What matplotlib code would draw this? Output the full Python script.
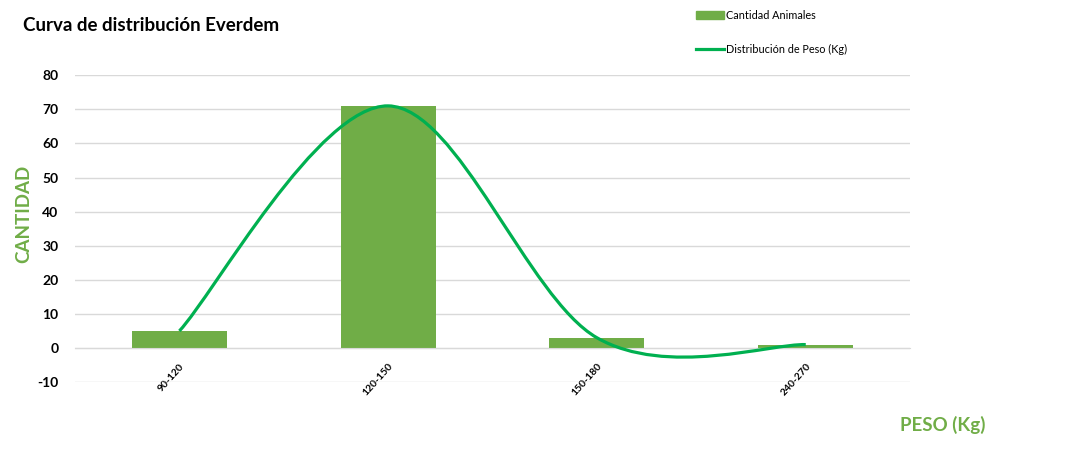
import matplotlib.pyplot as plt
from matplotlib.path import Path
from matplotlib.patches import PathPatch, Patch
from matplotlib.lines import Line2D
import numpy as np

plt.rcParams['font.family'] = ['Lato', 'DejaVu Sans']
plt.rcParams['axes.unicode_minus'] = False

categories = ['90-120', '120-150', '150-180', '240-270']
cantidad = [5, 71, 3, 1]
distribucion = [5, 71, 3, 1]

bar_colour = '#70AD47'
line_colour = '#00B050'

fig = plt.figure(figsize=(10.9, 4.7), dpi=100)
ax = fig.add_axes([0.0688, 0.187, 0.7662, 0.653])

x = np.arange(len(categories))
ax.bar(x, cantidad, width=0.455, color=bar_colour, zorder=2)


# smoothed line like excel: bezier with control points from neighbours
def smooth_path(xs, ys):
    pts = np.column_stack([xs, ys]).astype(float)
    n = len(pts)
    verts = [pts[0]]
    codes = [Path.MOVETO]
    for i in range(n - 1):
        p0 = pts[max(i - 1, 0)]
        p1 = pts[i]
        p2 = pts[i + 1]
        p3 = pts[min(i + 2, n - 1)]
        c1 = p1 + (p2 - p0) / 6.0
        c2 = p2 - (p3 - p1) / 6.0
        verts += [c1, c2, p2]
        codes += [Path.CURVE4] * 3
    return Path(verts, codes)


curve = PathPatch(smooth_path(x, distribucion), facecolor='none',
                  edgecolor=line_colour, lw=2.3, zorder=3, capstyle='butt')
ax.add_patch(curve)

ax.set_xlim(-0.5, len(categories) - 0.5)
ax.set_ylim(-10, 80)
ax.set_yticks(np.arange(-10, 81, 10))
ax.yaxis.grid(True, color='#D9D9D9', lw=1)
ax.set_axisbelow(True)
for s in ['top', 'right', 'left']:
    ax.spines[s].set_visible(False)
ax.spines['bottom'].set_position(('data', 0))
ax.spines['bottom'].set_color('#D9D9D9')
ax.tick_params(axis='both', length=0)
ax.tick_params(axis='y', pad=12, labelsize=10)
for lbl in ax.get_yticklabels():
    lbl.set_fontweight('bold')
ax.set_xticks(x)
ax.set_xticklabels(categories, rotation=48, ha='right', va='top',
                   rotation_mode='anchor', fontsize=7.5, fontweight='bold')
ax.tick_params(axis='x', pad=10)

fig.text(0.021, 0.945, 'Curva de distribución Everdem', fontsize=13.5,
         fontweight='bold', va='center')
fig.text(0.022, 0.545, 'CANTIDAD', rotation=90, color=bar_colour,
         fontsize=13.5, fontweight='bold', va='center', ha='center')
fig.text(0.865, 0.095, 'PESO (Kg)', color=bar_colour, fontsize=13.5,
         fontweight='bold', va='center', ha='center')

handles = [Patch(color=bar_colour), Line2D([], [], color=line_colour, lw=2.3)]
leg = fig.legend(handles, ['Cantidad Animales', 'Distribución de Peso (Kg)'],
                 loc='upper left', bbox_to_anchor=(0.63, 1.0), frameon=False,
                 fontsize=7.8, handlelength=2.5, handletextpad=0.2,
                 labelspacing=2.15)

plt.savefig('out.png', dpi=100)
plt.close()
